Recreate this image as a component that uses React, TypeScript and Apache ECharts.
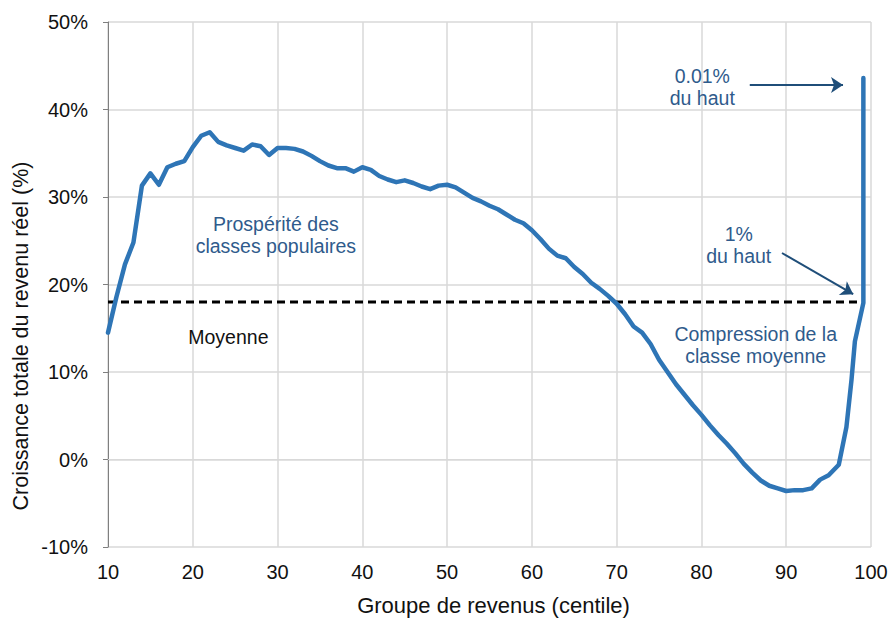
import React, { useEffect, useRef } from "react";
import * as echarts from "echarts";

const centiles = [
  10, 11, 12, 13, 14, 15, 16, 17, 18, 19, 20, 21, 22, 23, 24, 25, 26, 27, 28, 29,
  30, 31, 32, 33, 34, 35, 36, 37, 38, 39, 40, 41, 42, 43, 44, 45, 46, 47, 48, 49,
  50, 51, 52, 53, 54, 55, 56, 57, 58, 59, 60, 61, 62, 63, 64, 65, 66, 67, 68, 69,
  70, 71, 72, 73, 74, 75, 76, 77, 78, 79, 80, 81, 82, 83, 84, 85, 86, 87, 88, 89,
  90, 91, 92, 93, 94, 95, 96.2, 97.1, 97.7, 98.1, 99.1, 99.1,
];
const growth = [
  14.5, 18.6, 22.3, 24.8, 31.3, 32.7, 31.4, 33.4, 33.8, 34.1, 35.7, 37.0, 37.4, 36.3, 35.9, 35.6, 35.3, 36.0, 35.8, 34.8,
  35.6, 35.6, 35.5, 35.2, 34.7, 34.1, 33.6, 33.3, 33.3, 32.9, 33.4, 33.1, 32.4, 32.0, 31.7, 31.9, 31.6, 31.2, 30.9, 31.3,
  31.4, 31.1, 30.5, 29.9, 29.5, 29.0, 28.6, 28.0, 27.4, 27.0, 26.2, 25.2, 24.1, 23.3, 23.0, 22.0, 21.2, 20.2, 19.5, 18.7,
  17.8, 16.6, 15.2, 14.5, 13.2, 11.4, 10.0, 8.6, 7.4, 6.2, 5.1, 3.9, 2.8, 1.8, 0.7, -0.5, -1.5, -2.4, -3.0, -3.3,
  -3.6, -3.5, -3.5, -3.3, -2.3, -1.8, -0.6, 3.7, 9.1, 13.5, 17.9, 43.6,
];
const meanGrowth = 18;
const meanRange = [10, 99.1];
const yTicks = { min: -10, max: 50, interval: 10 };
const xTicks = { min: 10, max: 100, interval: 10 };
const xTitle = "Groupe de revenus (centile)";
const yTitle = "Croissance totale du revenu réel (%)";

// annotation texts, anchored in data units
const blueNotes = [
  { text: "Prospérité des\nclasses populaires", at: [29.8, 25.7] },
  { text: "Compression de la\nclasse moyenne", at: [86.4, 13.1] },
  { text: "0.01%\ndu haut", at: [80.1, 42.6] },
  { text: "1%\ndu haut", at: [84.4, 24.5] },
];
const blackNotes = [{ text: "Moyenne", at: [24.2, 14.0] }];
const arrows = [
  { from: [85.7, 42.8], to: [96.7, 42.8] },
  { from: [89.5, 23.6], to: [97.9, 18.9] },
];

const FONT = "'Liberation Sans', Arial, sans-serif";

export default function App() {
  const ref = useRef<HTMLDivElement>(null);
  useEffect(() => {
    if (!ref.current) return;
    const chart = echarts.init(ref.current, undefined, { renderer: "svg" });
    const lineData = centiles.map((c, i) => [c, growth[i]]);
    chart.setOption({
      animation: false,
      textStyle: { fontFamily: FONT },
      grid: { left: 108, right: 22, top: 22, bottom: 74, containLabel: false },
      xAxis: {
        type: "value",
        min: xTicks.min,
        max: xTicks.max,
        interval: xTicks.interval,
        name: xTitle,
        nameLocation: "middle",
        nameGap: 47,
        nameTextStyle: { fontSize: 22, color: "#111", fontFamily: FONT, padding: [0, 0, 0, 8] },
        axisLine: { show: true, lineStyle: { color: "#d9d9d9", width: 1 } },
        axisTick: { show: false },
        axisLabel: { fontSize: 20, color: "#111", margin: 15, fontFamily: FONT },
        splitLine: { show: true, lineStyle: { color: "#d9d9d9", width: 1.5 } },
      },
      yAxis: {
        type: "value",
        min: yTicks.min,
        max: yTicks.max,
        interval: yTicks.interval,
        axisLine: { show: true, lineStyle: { color: "#7f7f7f", width: 1 } },
        axisTick: { show: true, length: 5, lineStyle: { color: "#7f7f7f" } },
        axisLabel: { fontSize: 20, color: "#111", margin: 20, formatter: "{value}%", fontFamily: FONT },
        splitLine: { show: true, lineStyle: { color: "#d9d9d9", width: 1.5 } },
      },
      series: [
        {
          type: "line",
          data: [
            [meanRange[0], meanGrowth],
            [meanRange[1], meanGrowth],
          ],
          showSymbol: false,
          lineStyle: { color: "#000", width: 3, type: [8, 5] },
          z: 2,
        },
        {
          type: "line",
          data: lineData,
          showSymbol: false,
          lineStyle: { color: "#2E75B6", width: 4.5, join: "round", cap: "round" },
          z: 3,
          markLine: {
            silent: true,
            symbol: ["none", "arrow"],
            symbolSize: 12,
            label: { show: false },
            itemStyle: { color: "#1F4E79" },
            lineStyle: { color: "#1F4E79", width: 2, type: "solid" },
            data: arrows.map((a) => [{ coord: a.from }, { coord: a.to }]),
          },
        },
      ],
    });
    const notes = [
      ...blueNotes.map((n) => ({ ...n, color: "#2F5B8C" })),
      ...blackNotes.map((n) => ({ ...n, color: "#111" })),
    ];
    const graphic: any[] = notes.map((n) => {
      const p = chart.convertToPixel({ gridIndex: 0 }, n.at) as number[];
      return {
        type: "text",
        x: p[0],
        y: p[1],
        style: {
          text: n.text,
          fill: n.color,
          fontSize: 19.5,
          fontFamily: FONT,
          lineHeight: 22,
          align: "center",
          verticalAlign: "middle",
        },
        z: 10,
      };
    });
    graphic.push({
      type: "text",
      x: 21,
      y: 336,
      rotation: Math.PI / 2,
      style: {
        text: yTitle,
        fill: "#111",
        fontSize: 21.5,
        fontFamily: FONT,
        align: "center",
        verticalAlign: "middle",
      },
      z: 10,
    });
    chart.setOption({ graphic });
    return () => chart.dispose();
  }, []);
  return (
    <div
      ref={ref}
      style={{ position: "absolute", left: 0, top: 0, width: 893, height: 621 }}
    />
  );
}
